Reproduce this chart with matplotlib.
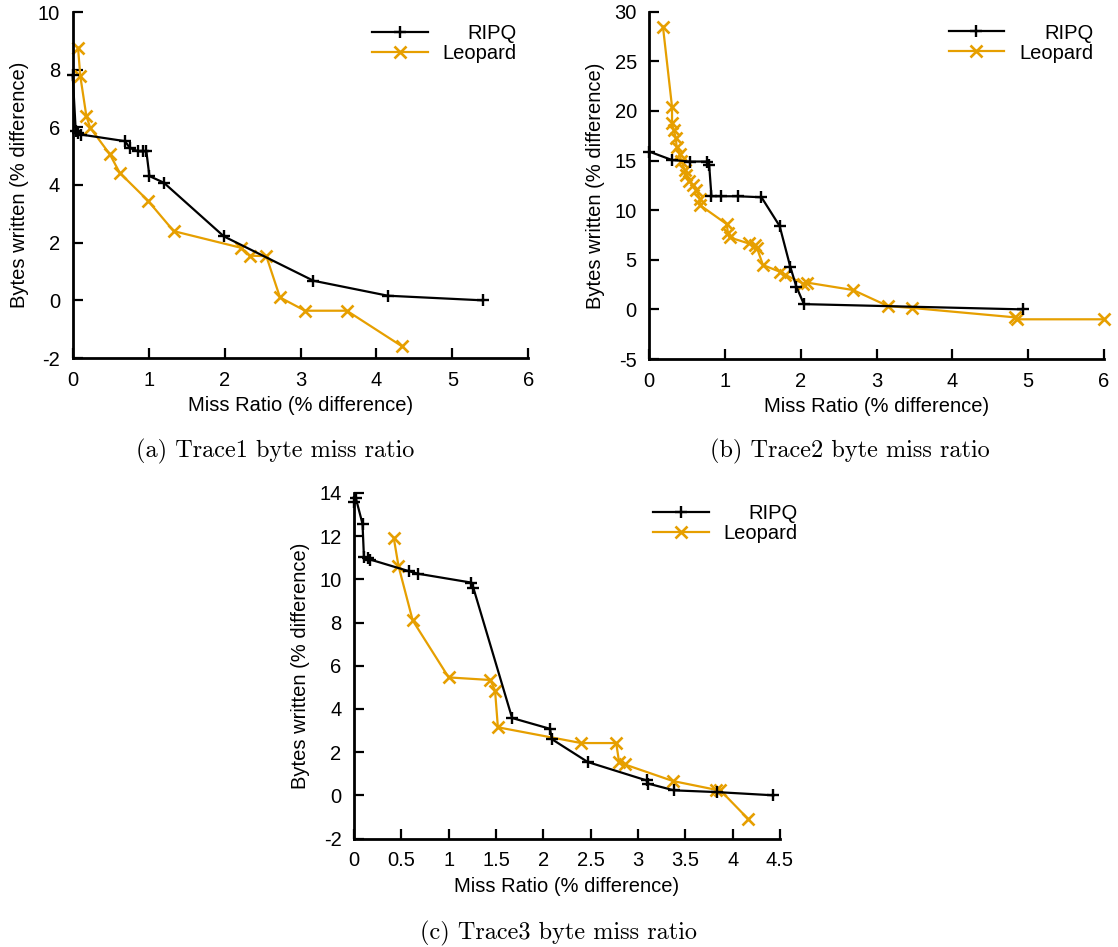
import matplotlib
matplotlib.use("Agg")
import matplotlib.pyplot as plt
from matplotlib.ticker import FuncFormatter, MultipleLocator

plt.rcParams['font.family'] = ['Liberation Sans', 'DejaVu Sans']
plt.rcParams['axes.unicode_minus'] = False

ORANGE = '#E69F00'

# trace 1
t1_ripq_x = [0.0, 0.04, 0.07, 0.11, 0.69, 0.75, 0.86, 0.93, 0.97, 1.01, 1.20, 1.99, 3.17, 4.15, 5.40]
t1_ripq_y = [7.8, 5.88, 5.8, 5.75, 5.52, 5.29, 5.17, 5.17, 5.17, 4.31, 4.08, 2.22, 0.68, 0.16, 0.0]
t1_leo_x = [0.07, 0.10, 0.18, 0.23, 0.49, 0.62, 0.99, 1.33, 2.22, 2.33, 2.55, 2.73, 3.06, 3.61, 4.34]
t1_leo_y = [8.76, 7.78, 6.39, 5.99, 5.06, 4.42, 3.46, 2.40, 1.82, 1.55, 1.53, 0.10, -0.36, -0.36, -1.60]

# trace 2
t2_ripq_x = [0.0, 0.30, 0.54, 0.76, 0.79, 0.82, 0.95, 1.17, 1.48, 1.72, 1.86, 1.94, 2.04, 4.93]
t2_ripq_y = [15.9, 15.05, 14.9, 14.9, 14.55, 11.4, 11.4, 11.4, 11.3, 8.4, 4.3, 2.3, 0.53, 0.0]
t2_leo_x = [0.18, 0.30, 0.30, 0.32, 0.35, 0.36, 0.40, 0.42, 0.47, 0.49, 0.53, 0.58, 0.62,
            0.67, 0.67, 1.02, 1.04, 1.06, 1.31, 1.39, 1.42, 1.50, 1.72, 1.79, 2.03, 2.08,
            2.69, 3.15, 3.46, 4.82, 4.85, 6.0]
t2_leo_y = [28.5, 20.4, 18.75, 18.1, 17.3, 16.4, 15.7, 15.0, 14.0, 13.5, 12.9, 12.5, 12.0,
            11.1, 10.5, 8.6, 7.65, 7.25, 6.65, 6.5, 6.2, 4.47, 3.8, 3.5, 2.6, 2.7,
            1.95, 0.33, 0.15, -0.8, -1.0, -1.0]

# trace 3
t3_ripq_x = [0.0, 0.02, 0.09, 0.105, 0.15, 0.17, 0.58, 0.68, 1.24, 1.26, 1.67, 2.07, 2.09,
             2.47, 3.09, 3.11, 3.38, 3.83, 4.43]
t3_ripq_y = [13.58, 13.75, 12.57, 11.03, 10.97, 10.92, 10.38, 10.26, 9.85, 9.62, 3.58, 3.08, 2.60,
             1.54, 0.69, 0.54, 0.23, 0.15, 0.0]
t3_leo_x = [0.42, 0.47, 0.62, 1.0, 1.44, 1.49, 1.52, 2.40, 2.77, 2.80, 2.86, 3.37, 3.82, 3.87, 4.16]
t3_leo_y = [11.92, 10.62, 8.1, 5.46, 5.34, 4.85, 3.15, 2.42, 2.42, 1.54, 1.43, 0.66, 0.26, 0.23, -1.08]

W, H = 1118, 947
fig = plt.figure(figsize=(W / 100, H / 100), dpi=100)

# axes boxes in pixels: left, bottom spine y, width, height
boxes = [(72.7, 358, 455.6, 346),
         (649.3, 359, 454.7, 347.3),
         (354, 838.5, 426, 345.5)]
panels = [
    (t1_ripq_x, t1_ripq_y, t1_leo_x, t1_leo_y, (0, 6), 1, (-2, 10), 2, 0.975, 0.966),
    (t2_ripq_x, t2_ripq_y, t2_leo_x, t2_leo_y, (0, 6), 1, (-5, 30), 5, 0.9765, 0.966),
    (t3_ripq_x, t3_ripq_y, t3_leo_x, t3_leo_y, (0, 4.5), 0.5, (-2, 14), 2, 1.042, 0.969),
]
captions = [('(a) Trace1 byte miss ratio', 275, 451),
            ('(b) Trace2 byte miss ratio', 850, 451),
            ('(c) Trace3 byte miss ratio', 559, 933)]

fmt = FuncFormatter(lambda v, p: '%g' % v)
fig.canvas.draw()
renderer = fig.canvas.get_renderer()

for (l, b, w, h), (rx, ry, lx, ly, xl, xs, yl, ys, lgx, lgy) in zip(boxes, panels):
    ax = fig.add_axes([l / W, (H - b) / H, w / W, h / H])
    ax.plot(rx, ry, color='black', lw=1.6, marker='+', ms=9, mew=1.7,
            label='RIPQ', clip_on=False, zorder=3)
    ax.plot(lx, ly, color=ORANGE, lw=1.6, marker='x', ms=8, mew=1.9,
            label='Leopard', clip_on=False, zorder=2)
    ax.set_xlim(*xl)
    ax.set_ylim(*yl)
    ax.xaxis.set_major_locator(MultipleLocator(xs))
    ax.yaxis.set_major_locator(MultipleLocator(ys))
    ax.xaxis.set_major_formatter(fmt)
    ax.yaxis.set_major_formatter(fmt)
    for s in ['top', 'right']:
        ax.spines[s].set_visible(False)
    for s in ['left', 'bottom']:
        ax.spines[s].set_linewidth(2.0)
    ax.tick_params(direction='in', length=7, width=1.6, labelsize=14.5, pad=9)
    ax.set_xlabel('Miss Ratio (% difference)', fontsize=14.5)
    ax.set_ylabel('Bytes written (% difference)', fontsize=14.5)
    ax.xaxis.set_label_coords(0.5, -38 / h)
    ax.yaxis.set_label_coords(-44 / w, 0.5)

    leg = ax.legend(loc='upper right', bbox_to_anchor=(lgx, lgy), frameon=False,
                    fontsize=14.5, handlelength=2.75, handletextpad=0.75,
                    labelspacing=0.05, borderpad=0, borderaxespad=0, numpoints=1)
    # right-justify the legend labels, gnuplot style
    widths = [t.get_window_extent(renderer).width for t in leg.get_texts()]
    for t, tw in zip(leg.get_texts(), widths):
        t.set_position((max(widths) - tw, 0))

for txt, x, y in captions:
    fig.text(x / W, 1 - y / H, txt, ha='center', va='center',
             fontsize=17.5, family='cmr10')

fig.savefig('out.png', dpi=100)
